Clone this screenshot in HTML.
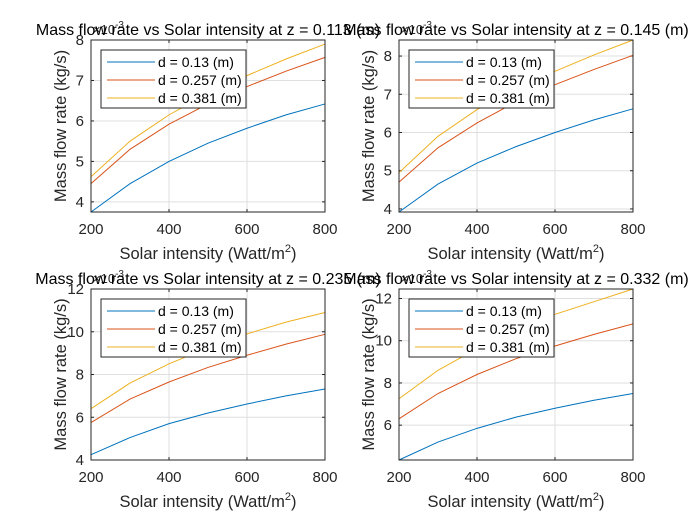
<!DOCTYPE html>
<html><head><meta charset="utf-8">
<style>
body{margin:0;background:#fff;}
svg{display:block;font-family:"Liberation Sans",sans-serif;}
</style></head>
<body>
<svg id="fig" width="700" height="525" viewBox="0 0 700 525"></svg>
<script>
const xValues=[200,300,400,500,600,700,800];
const xTicks=[200,400,600,800];
const seriesLabels=["d = 0.13 (m)","d = 0.257 (m)","d = 0.381 (m)"];
const colors=["#0072BD","#D95319","#EDB120"];
const titles=["Mass flow rate vs Solar intensity at z = 0.113 (m)","Mass flow rate vs Solar intensity at z = 0.145 (m)","Mass flow rate vs Solar intensity at z = 0.235 (m)","Mass flow rate vs Solar intensity at z = 0.332 (m)"];
const yRanges=[[3.75,8],[3.92,8.42],[4,12],[4.35,12.45]];
const yTicksAll=[[4,5,6,7,8],[4,5,6,7,8],[4,6,8,10,12],[6,8,10,12]];
const p1Blue=[3.75,4.45,5.0,5.45,5.82,6.15,6.42];
const p1Red=[4.45,5.3,5.92,6.42,6.85,7.23,7.57];
const p1Yellow=[4.62,5.5,6.15,6.68,7.12,7.53,7.9];
const p2Blue=[3.92,4.65,5.2,5.63,6.0,6.33,6.62];
const p2Red=[4.7,5.6,6.25,6.8,7.25,7.65,8.02];
const p2Yellow=[4.95,5.9,6.6,7.15,7.6,8.03,8.42];
const p3Blue=[4.25,5.05,5.7,6.2,6.62,7.0,7.32];
const p3Red=[5.75,6.85,7.65,8.33,8.9,9.42,9.88];
const p3Yellow=[6.4,7.6,8.5,9.25,9.9,10.45,10.9];
const p4Blue=[4.35,5.2,5.85,6.38,6.8,7.18,7.5];
const p4Red=[6.3,7.5,8.4,9.15,9.75,10.3,10.8];
const p4Yellow=[7.25,8.6,9.62,10.5,11.25,11.85,12.45];
const panelData=[[p1Blue,p1Red,p1Yellow],[p2Blue,p2Red,p2Yellow],[p3Blue,p3Red,p3Yellow],[p4Blue,p4Red,p4Yellow]];
const boxes=[[91,40,325,212],[399,40,633,212],[91,289,325,460],[399,289,633,460]];
const NS="http://www.w3.org/2000/svg";
const svg=document.getElementById('fig');
function mk(tag,attrs,parent,text){const e=document.createElementNS(NS,tag);for(const k in attrs)e.setAttribute(k,attrs[k]);if(text!==undefined)e.textContent=text;(parent||svg).appendChild(e);return e;}
panelData.forEach((series,pi)=>{
  const [L,T,R,B]=boxes[pi];
  const [y0,y1]=yRanges[pi];
  const sx=v=>L+(v-200)/600*(R-L);
  const sy=v=>B-(v-y0)/(y1-y0)*(B-T);
  const g=mk('g',{});
  
  
  xTicks.forEach(t=>{
    const x=sx(t);
    const gl=mk('line',{x1:x,x2:x,y1:T,y2:B,stroke:'#dfdfdf','stroke-width':1},g);
    
    mk('line',{x1:x,x2:x,y1:B,y2:B-3,stroke:'#262626'},g);
    mk('line',{x1:x,x2:x,y1:T,y2:T+3,stroke:'#262626'},g);
    const tl=mk('text',{x:x,y:B+22,'text-anchor':'middle','font-size':15,fill:'#262626'},g,String(t));
    
  });
  yTicksAll[pi].forEach(t=>{
    const y=sy(t);
    const gl=mk('line',{x1:L,x2:R,y1:y,y2:y,stroke:'#dfdfdf','stroke-width':1},g);
    
    mk('line',{x1:L,x2:L+3,y1:y,y2:y,stroke:'#262626'},g);
    mk('line',{x1:R,x2:R-3,y1:y,y2:y,stroke:'#262626'},g);
    const tl=mk('text',{x:L-7,y:y+5,'text-anchor':'end','font-size':15,fill:'#262626'},g,String(t));
    
  });
  series.forEach((vals,si)=>{
    const pts=vals.map((v,i)=>sx(xValues[i])+','+sy(v)).join(' ');
    const pl=mk('polyline',{points:pts,fill:'none',stroke:colors[si],'stroke-width':1},g);
    
  });
  const fr=mk('rect',{x:L,y:T,width:R-L,height:B-T,fill:'none',stroke:'#262626','stroke-width':1},g);
  
  const lx=L+10,ly=T+10,lw=145,lh=58;
  const lg=mk('g',{},g);
  
  mk('rect',{x:lx,y:ly,width:lw,height:lh,fill:'#fff',stroke:'#262626'},lg);
  seriesLabels.forEach((s,si)=>{
    const y=ly+12+si*18;
    mk('line',{x1:lx+6,x2:lx+54,y1:y,y2:y,stroke:colors[si]},lg);
    const t=mk('text',{x:lx+57,y:y+5,'font-size':14,fill:'#000'},lg,s);
    
  });
  const ex=mk('text',{x:L+2,y:T-6,'font-size':13,fill:'#262626'},g);
  
  ex.innerHTML='×10<tspan dy="-6" font-size="10">-3</tspan>';
  const ti=mk('text',{x:(L+R)/2,y:T-5,'text-anchor':'middle','font-size':16,fill:'#000'},g,titles[pi]);
  
  const xl=mk('text',{x:(L+R)/2,y:B+47,'text-anchor':'middle','font-size':16.5,fill:'#262626'},g);
  
  xl.innerHTML='Solar intensity (Watt/m<tspan dy="-7" font-size="11">2</tspan><tspan dy="7">)</tspan>';
  const cy=(T+B)/2;
  const yl=mk('text',{x:0,y:0,transform:'translate('+(L-25)+','+cy+') rotate(-90)','text-anchor':'middle','font-size':16.5,fill:'#262626'},g,'Mass flow rate (kg/s)');
  
});
</script>
</body></html>
